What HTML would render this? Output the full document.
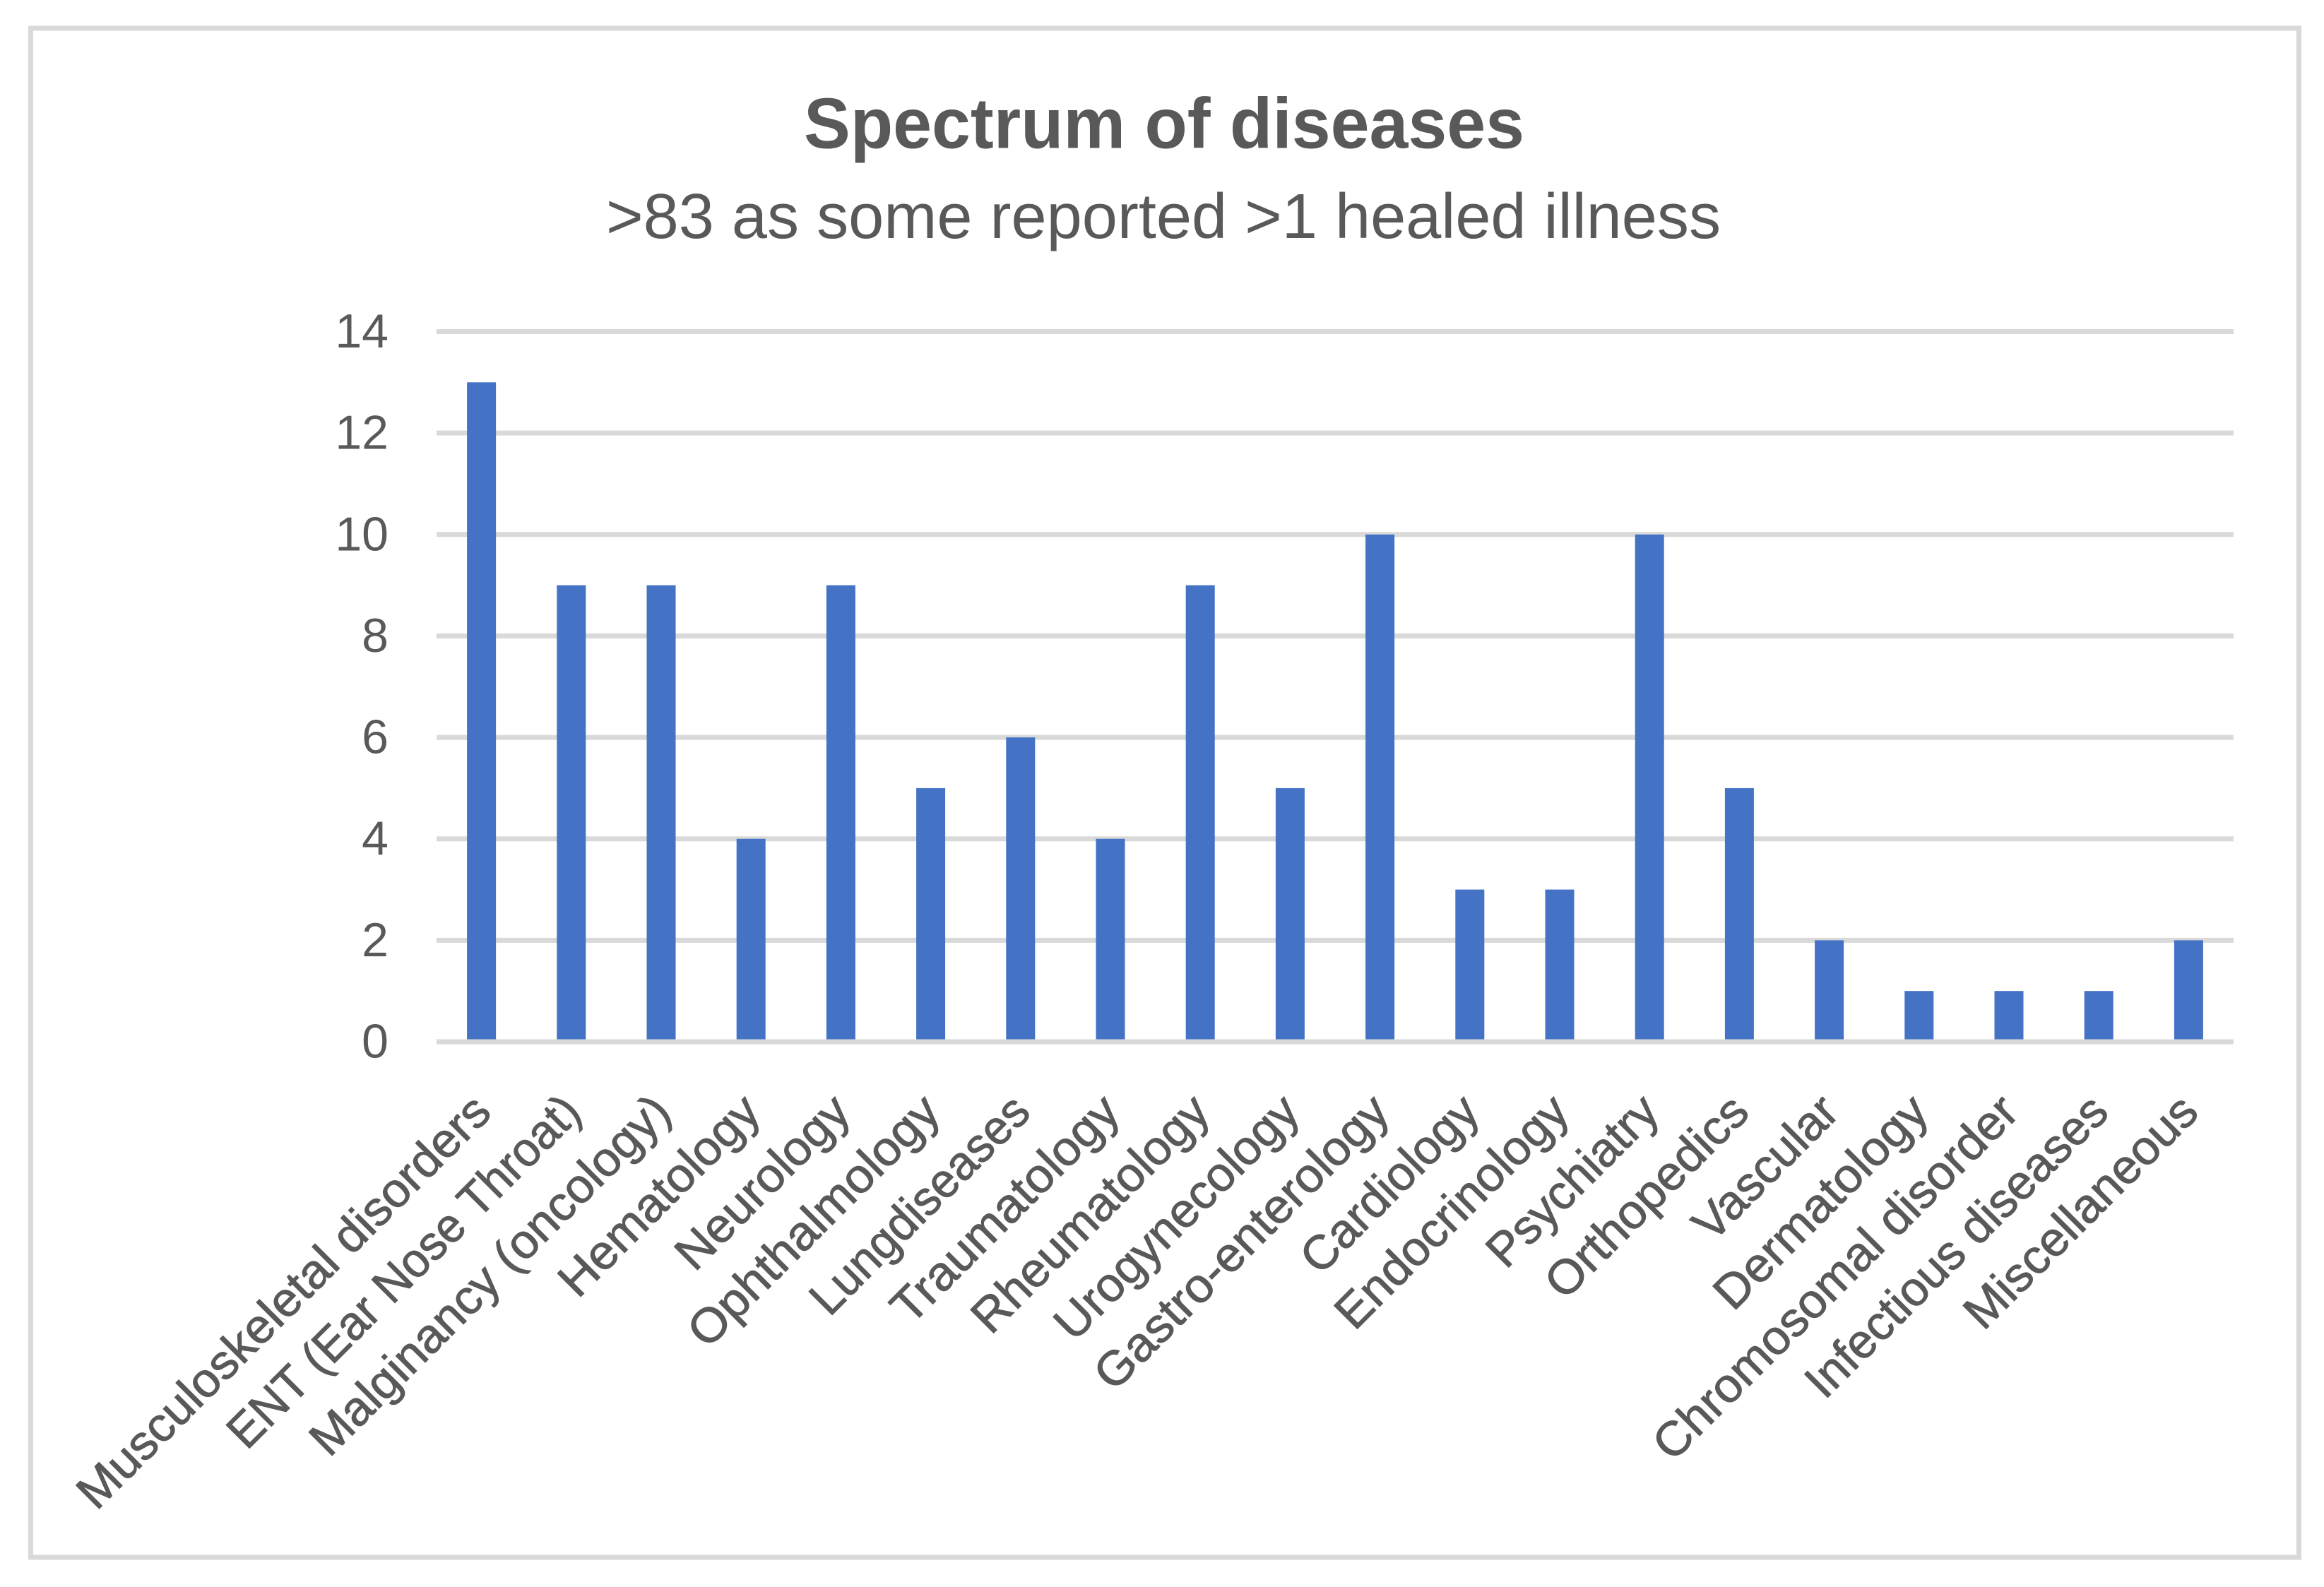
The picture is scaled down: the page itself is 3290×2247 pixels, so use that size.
<!DOCTYPE html>
<html lang="en">
<head>
<meta charset="utf-8">
<title>Spectrum of diseases</title>
<style>
html,body{margin:0;padding:0;background:#fff}
svg{display:block}
text{font-family:"Liberation Sans",sans-serif;fill:#595959}
</style>
</head>
<body>
<svg id="chart" xmlns="http://www.w3.org/2000/svg" width="3290" height="2247" viewBox="0 0 3290 2247">
  <rect x="0" y="0" width="3290" height="2247" fill="#ffffff"/>
  <rect x="43.5" y="40" width="3211" height="2165" fill="#ffffff" stroke="#D9D9D9" stroke-width="7"/>
  <text x="1648" y="209.5" text-anchor="middle" font-size="101" font-weight="700" textLength="1020" lengthAdjust="spacingAndGlyphs">Spectrum of diseases</text>
  <text x="1647" y="337" text-anchor="middle" font-size="90" textLength="1578" lengthAdjust="spacingAndGlyphs">&gt;83 as some reported &gt;1 healed illness</text>
  <g id="grid"></g>
  <g id="yticks"></g>
  <g id="bars"></g>
  <g id="xticks"></g>
</svg>
<script>
const categories = ["Musculoskeletal disorders","ENT (Ear Nose Throat)","Malginancy (oncology)","Hematology","Neurology","Ophthalmology","Lungdiseases","Traumatology","Rheumatology","Urogynecology","Gastro-enterology","Cardiology","Endocrinology","Psychiatry","Orthopedics","Vascular","Dermatology","Chromosomal disorder","Infectious diseases","Miscellaneous"];
const counts = [13,9,9,4,9,5,6,4,9,5,10,3,3,10,5,2,1,1,1,2];
const tickValues = [0,2,4,6,8,10,12,14];

const NS = 'http://www.w3.org/2000/svg';
const plotLeft = 618, plotRight = 3162, plotBottom = 1475, plotTop = 469.5, axisMax = 14;
function yScale(v){ return plotBottom - (v / axisMax) * (plotBottom - plotTop); }
function xBand(){ return (plotRight - plotLeft) / categories.length; }
function xCenter(i){ return plotLeft + xBand() * (i + 0.5); }

/* Advance widths of the humanist face the labels were set in, per em */
const advance = {a:.479,b:.525,c:.423,d:.525,e:.498,f:.305,g:.471,h:.525,i:.229,j:.239,k:.455,l:.229,m:.799,n:.525,o:.527,p:.525,q:.525,r:.349,s:.391,t:.335,u:.525,v:.452,w:.715,x:.433,y:.453,z:.395,' ':.226,C:.533,D:.615,E:.488,G:.631,H:.623,I:.252,M:.855,N:.646,O:.662,P:.517,R:.543,T:.487,U:.642,V:.567,'(':.303,')':.303,'-':.306};
function labelLength(s){
  let w = 0;
  for (const ch of s) { w += advance[ch] || 0.5; }
  return w * 75;
}

const gridG = document.getElementById('grid');
const yG = document.getElementById('yticks');
const barsG = document.getElementById('bars');
const xG = document.getElementById('xticks');

tickValues.forEach(function(t){
  const line = document.createElementNS(NS, 'line');
  
  
  line.setAttribute('x1', plotLeft);
  line.setAttribute('x2', plotRight);
  line.setAttribute('y1', yScale(t));
  line.setAttribute('y2', yScale(t));
  line.setAttribute('stroke', '#D9D9D9');
  line.setAttribute('stroke-width', '7');
  gridG.appendChild(line);

  const label = document.createElementNS(NS, 'text');
  
  
  label.setAttribute('x', 550);
  label.setAttribute('y', yScale(t) + 22.5);
  label.setAttribute('text-anchor', 'end');
  label.setAttribute('font-size', '68');
  label.textContent = t;
  yG.appendChild(label);
});

const barWidth = 41;
counts.forEach(function(v, i){
  const bar = document.createElementNS(NS, 'rect');
  
  
  bar.setAttribute('x', xCenter(i) - barWidth / 2);
  bar.setAttribute('y', yScale(v));
  bar.setAttribute('width', barWidth);
  bar.setAttribute('height', yScale(0) - 3.5 - yScale(v));
  bar.setAttribute('fill', '#4472C4');
  barsG.appendChild(bar);
});

categories.forEach(function(c, i){
  const ax = xCenter(i) + 17, ay = 1578;
  const label = document.createElementNS(NS, 'text');
  
  
  label.setAttribute('text-anchor', 'end');
  label.setAttribute('font-size', '68');
  label.setAttribute('stroke', '#595959');
  label.setAttribute('stroke-width', '1');
  label.setAttribute('textLength', labelLength(c).toFixed(1));
  label.setAttribute('lengthAdjust', 'spacingAndGlyphs');
  label.setAttribute('transform', 'translate(' + ax + ' ' + ay + ') rotate(-45)');
  label.textContent = c;
  xG.appendChild(label);
});
</script>
</body>
</html>
